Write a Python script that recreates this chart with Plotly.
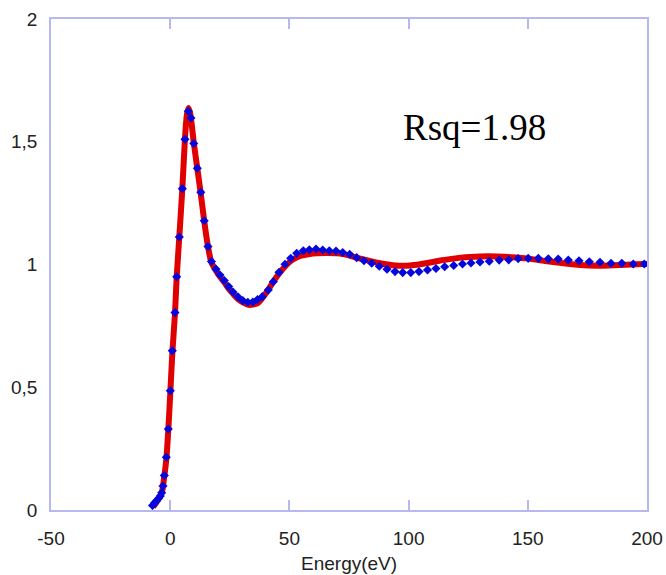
import plotly.graph_objects as go

# Measured data (blue diamonds)
data_x = [-7.42, -6.59, -5.75, -4.91, -4.15, -3.57, -3.02, -2.47, -1.64, -0.80,
          0.04, 0.88, 2.01, 2.73, 3.82, 5.08, 6.21, 7.59, 8.72, 9.90,
          11.37, 12.84, 14.26, 15.86, 17.32, 19.21, 20.89, 22.69, 24.54, 26.34,
          28.44, 30.45, 32.55, 34.65, 36.62, 38.63, 41.15, 43.25, 45.64, 48.15,
          50.55, 53.06, 55.83, 58.35, 61.16, 63.97, 66.74, 69.55, 72.36, 75.29,
          78.23, 81.29, 84.52, 87.71, 90.94, 94.30, 97.53, 100.92, 104.36, 107.93,
          111.49, 115.14, 118.92, 122.61, 126.17, 129.95, 133.85, 138.00, 141.99, 145.97,
          150.17, 154.40, 158.60, 162.75, 166.99, 171.48, 175.80, 180.28, 184.90, 189.43,
          194.25, 198.86]
data_y = [0.018, 0.029, 0.037, 0.047, 0.057, 0.070, 0.098, 0.141, 0.215, 0.330,
          0.486, 0.649, 0.804, 0.950, 1.112, 1.309, 1.510, 1.624, 1.597, 1.493,
          1.392, 1.294, 1.178, 1.073, 1.012, 0.981, 0.957, 0.935, 0.910, 0.888,
          0.868, 0.853, 0.846, 0.847, 0.857, 0.869, 0.896, 0.930, 0.968, 1.001,
          1.025, 1.046, 1.056, 1.060, 1.063, 1.059, 1.056, 1.055, 1.049, 1.042,
          1.028, 1.015, 1.005, 0.993, 0.981, 0.971, 0.967, 0.967, 0.971, 0.978,
          0.984, 0.991, 0.996, 1.002, 1.006, 1.010, 1.013, 1.018, 1.019, 1.024,
          1.025, 1.025, 1.023, 1.022, 1.018, 1.015, 1.011, 1.009, 1.005, 1.005,
          1.002, 1.002]

# Fit (red line)
fit_x = [-7.2, -6.0, -4.9, -4.0, -3.3, -2.5, -1.6, -0.8, 0.0, 0.9,
         2.0, 2.7, 3.8, 5.1, 6.2, 7.0, 7.7, 8.5, 9.9, 11.4,
         12.8, 14.3, 15.9, 17.3, 19.2, 20.9, 22.7, 24.3, 26.3, 28.4,
         30.5, 33.4, 36.8, 40.5, 44.0, 47.5, 51.1, 54.5, 58.0, 61.5,
         66.0, 71.3, 74.1, 79.7, 84.0, 88.0, 92.0, 96.4, 100.6, 104.8,
         109.0, 113.2, 118.0, 122.9, 126.5, 130.0, 133.5, 137.1, 143.0, 149.7,
         157.2, 163.5, 171.9, 179.0, 184.0, 188.7, 193.5, 198.3, 200.0]
fit_y = [0.012, 0.028, 0.045, 0.060, 0.080, 0.135, 0.210, 0.325, 0.470, 0.640,
         0.800, 0.945, 1.110, 1.310, 1.515, 1.610, 1.637, 1.610, 1.495, 1.390,
         1.290, 1.175, 1.070, 1.008, 0.975, 0.950, 0.928, 0.905, 0.882, 0.860,
         0.846, 0.835, 0.843, 0.888, 0.941, 0.985, 1.018, 1.035, 1.042, 1.046,
         1.047, 1.045, 1.039, 1.024, 1.014, 1.005, 0.999, 0.995, 0.996, 1.001,
         1.008, 1.016, 1.023, 1.029, 1.031, 1.033, 1.034, 1.033, 1.030, 1.025,
         1.014, 1.007, 0.998, 0.995, 0.996, 0.998, 1.000, 1.002, 1.002]

x_ticks = [-50, 0, 50, 100, 150, 200]
x_ticktext = ["-50", "0", "50", "100", "150", "200"]
y_ticks = [0, 0.5, 1, 1.5, 2]
y_ticktext = ["0", "0,5", "1", "1,5", "2"]

frame = "#b8b8f0"

fig = go.Figure()
fig.add_trace(go.Scatter(x=fit_x, y=fit_y, mode="lines",
                         line=dict(color="#e00000", width=6, shape="spline", smoothing=0.6),
                         showlegend=False))
fig.add_trace(go.Scatter(x=data_x, y=data_y, mode="markers",
                         marker=dict(symbol="diamond", size=7, color="#0505dc", line=dict(width=0)),
                         showlegend=False))

fig.add_annotation(x=127.7, y=1.56, text="Rsq=1.98", showarrow=False,
                   font=dict(family="Liberation Serif", size=37, color="black"))
fig.add_annotation(x=0.5, y=0, xref="paper", yref="paper", text="Energy(eV)",
                   showarrow=False, yanchor="middle", yshift=-53,
                   font=dict(family="Liberation Sans", size=19, color="#222222"))

fig.update_layout(
    width=666, height=575,
    margin=dict(l=51, r=19, t=19, b=65, autoexpand=False),
    paper_bgcolor="white", plot_bgcolor="white",
    font=dict(family="Liberation Sans", size=19, color="#222222"),
    xaxis=dict(range=[-50, 200], tickvals=x_ticks, ticktext=x_ticktext, showgrid=False,
               zeroline=False, automargin=False,
               showline=True, linecolor=frame, linewidth=1.5, mirror="ticks",
               ticks="inside", ticklen=10, tickcolor=frame, tickwidth=1.5,
               ticklabelstandoff=10),
    yaxis=dict(range=[0, 2], tickvals=y_ticks, ticktext=y_ticktext, showgrid=False,
               zeroline=False, automargin=False, showline=True, linecolor=frame,
               linewidth=1.5, mirror=True, ticks="", ticklabelstandoff=8),
)

fig.write_html("out.html")
